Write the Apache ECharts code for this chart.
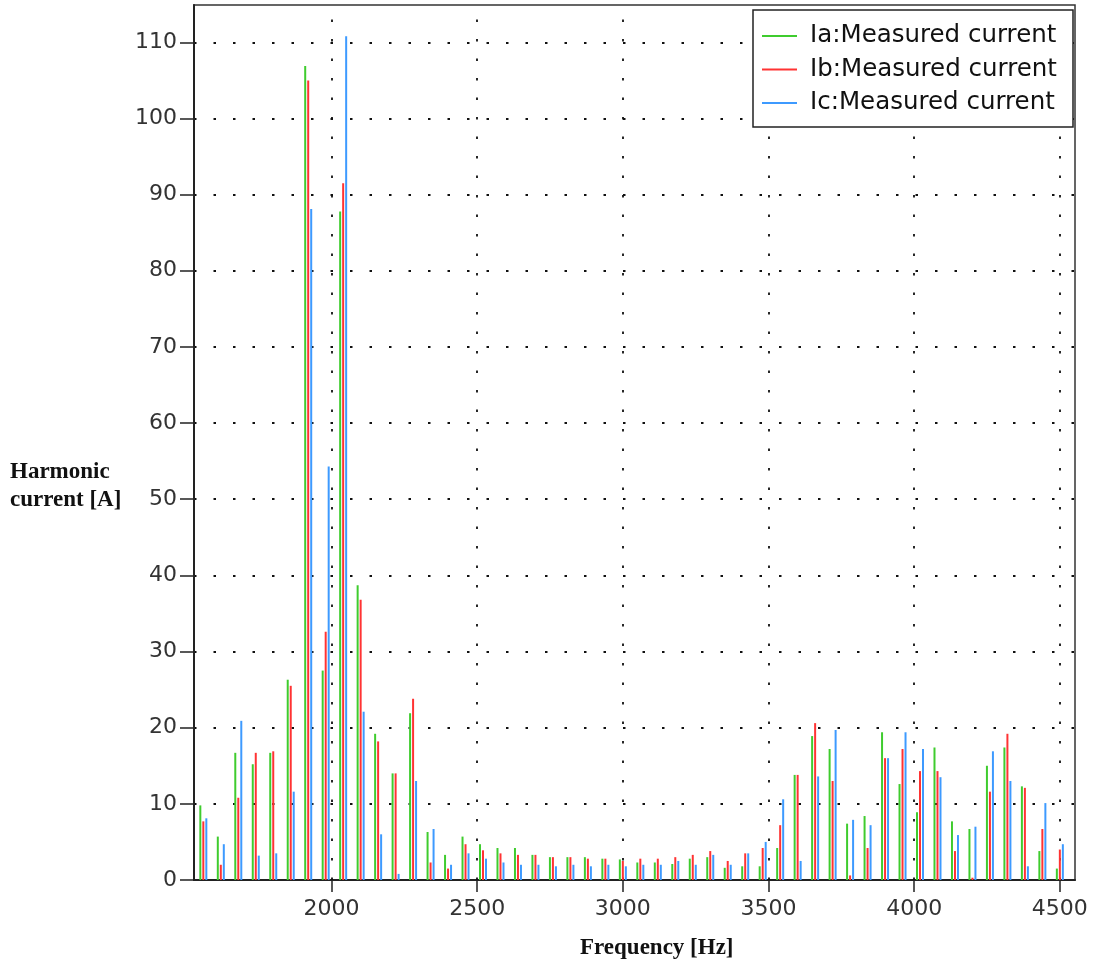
<!DOCTYPE html>
<html>
<head>
<meta charset="utf-8">
<script src="https://cdn.jsdelivr.net/npm/echarts@6/dist/echarts.min.js"></script>
<style>
  html, body { margin: 0; padding: 0; background: #fff; }
  #chart { width: 1096px; height: 963px; }
</style>
</head>
<body>
<div id="chart"></div>
<script>
// Harmonic frequencies [Hz]
const frequencies = [1560,1620,1680,1740,1800,1860,1920,1980,2040,2100,
  2160,2220,2280,2340,2400,2460,2520,2580,2640,2700,
  2760,2820,2880,2940,3000,3060,3120,3180,3240,3300,
  3360,3420,3480,3540,3600,3660,3720,3780,3840,3900,
  3960,4020,4080,4140,4200,4260,4320,4380,4440,4500];

// Ia: Measured current [A]
const iaValues = [9.8,5.7,16.7,15.2,16.7,26.3,106.9,27.5,87.8,38.7,
  19.2,14.0,21.9,6.3,3.3,5.7,4.7,4.2,4.2,3.3,
  3.0,3.0,3.0,2.8,2.7,2.3,2.3,2.1,2.8,3.0,
  1.6,1.8,1.8,4.2,13.8,18.9,17.2,7.4,8.4,19.4,
  12.6,8.9,17.4,7.7,6.7,15.0,17.4,12.3,3.8,1.5];

// Ib: Measured current [A]
const ibValues = [7.7,2.0,10.8,16.7,16.9,25.5,105.0,32.6,91.5,36.8,
  18.2,14.0,23.8,2.3,1.5,4.7,3.9,3.5,3.3,3.3,
  3.0,3.0,2.8,2.8,2.5,2.8,2.8,3.0,3.3,3.8,
  2.5,3.5,4.2,7.2,13.8,20.6,13.0,0.6,4.2,16.0,
  17.2,14.3,14.3,3.8,0.3,11.6,19.2,12.1,6.7,4.0];

// Ic: Measured current [A]
const icValues = [8.1,4.7,20.9,3.2,3.5,11.6,88.1,54.3,110.8,22.1,
  6.0,0.8,13.0,6.7,2.0,3.5,2.8,2.3,2.0,2.0,
  1.8,2.0,1.8,2.0,1.8,2.0,2.0,2.5,2.0,3.3,
  2.0,3.5,5.0,10.6,2.5,13.6,19.7,7.9,7.2,16.0,
  19.4,17.2,13.5,5.9,7.0,16.9,13.0,1.8,10.1,4.7];

const xTicks = [2000, 2500, 3000, 3500, 4000, 4500];
const yTicks = [0, 10, 20, 30, 40, 50, 60, 70, 80, 90, 100, 110];

const seriesNames = ['Ia:Measured current', 'Ib:Measured current', 'Ic:Measured current'];
const seriesColors = ['#3fcc2e', '#ff3333', '#3d9aff'];

const pair = vals => frequencies.map((f, i) => [f, vals[i]]);

const tickFont = { fontFamily: 'DejaVu Sans', fontSize: 22, color: '#333' };
const gridDots = { color: '#111', width: 1.8, type: [2.5, 17] };

const chart = echarts.init(document.getElementById('chart'));
chart.setOption({
  animation: false,
  backgroundColor: '#fff',
  title: [
    {
      text: 'Harmonic\ncurrent [A]',
      left: 10, top: 458, padding: 0,
      textStyle: { fontFamily: 'Liberation Serif', fontWeight: 'bold', fontSize: 23, lineHeight: 28, color: '#111' }
    },
    {
      text: 'Frequency [Hz]',
      left: 580, top: 936, padding: 0,
      textStyle: { fontFamily: 'Liberation Serif', fontWeight: 'bold', fontSize: 23, lineHeight: 24, color: '#111' }
    }
  ],
  legend: {
    orient: 'vertical',
    left: 753, top: 10,
    padding: [12, 13, 10, 9],
    backgroundColor: '#fff',
    borderColor: '#222', borderWidth: 1.5,
    icon: 'rect', itemWidth: 35, itemHeight: 2, itemGap: 5.5,
    textStyle: { fontFamily: 'DejaVu Sans', fontSize: 24.5, lineHeight: 28, color: '#111',
      width: 250, padding: [0, 0, 0, 8] },
    data: seriesNames
  },
  grid: {
    left: 194, right: 21, top: 5, bottom: 83,
    show: true, borderColor: '#333', borderWidth: 1.5, backgroundColor: 'transparent'
  },
  xAxis: {
    type: 'value', min: 1528, max: 4552,
    axisLine: { show: true, lineStyle: { color: '#222', width: 2 } },
    axisTick: { show: true, customValues: xTicks, length: 12, lineStyle: { color: '#222', width: 1.5 } },
    axisLabel: Object.assign({ customValues: xTicks, margin: 18, formatter: v => String(v) }, tickFont),
    splitLine: { show: false }
  },
  yAxis: {
    type: 'value', min: 0, max: 114.9, interval: 10,
    axisLine: { show: true, lineStyle: { color: '#222', width: 2 } },
    axisTick: { show: true, customValues: yTicks, length: 14, lineStyle: { color: '#222', width: 1.5 } },
    axisLabel: Object.assign({ customValues: yTicks, margin: 17, formatter: v => String(v) }, tickFont),
    splitLine: { show: true, lineStyle: gridDots }
  },
  series: [
    {
      name: 'grid', type: 'line', data: [], silent: true,
      markLine: {
        silent: true, symbol: 'none', z: 1, animation: false,
        label: { show: false },
        lineStyle: gridDots,
        emphasis: { disabled: true },
        data: xTicks.map(v => ({ xAxis: v }))
      }
    },
    {
      name: seriesNames[0], type: 'bar', data: pair(iaValues),
      barWidth: 2, barGap: '50%', itemStyle: { color: seriesColors[0] }
    },
    {
      name: seriesNames[1], type: 'bar', data: pair(ibValues),
      barWidth: 2, barGap: '50%', itemStyle: { color: seriesColors[1] }
    },
    {
      name: seriesNames[2], type: 'bar', data: pair(icValues),
      barWidth: 2, barGap: '50%', itemStyle: { color: seriesColors[2] }
    }
  ]
});
</script>
</body>
</html>
